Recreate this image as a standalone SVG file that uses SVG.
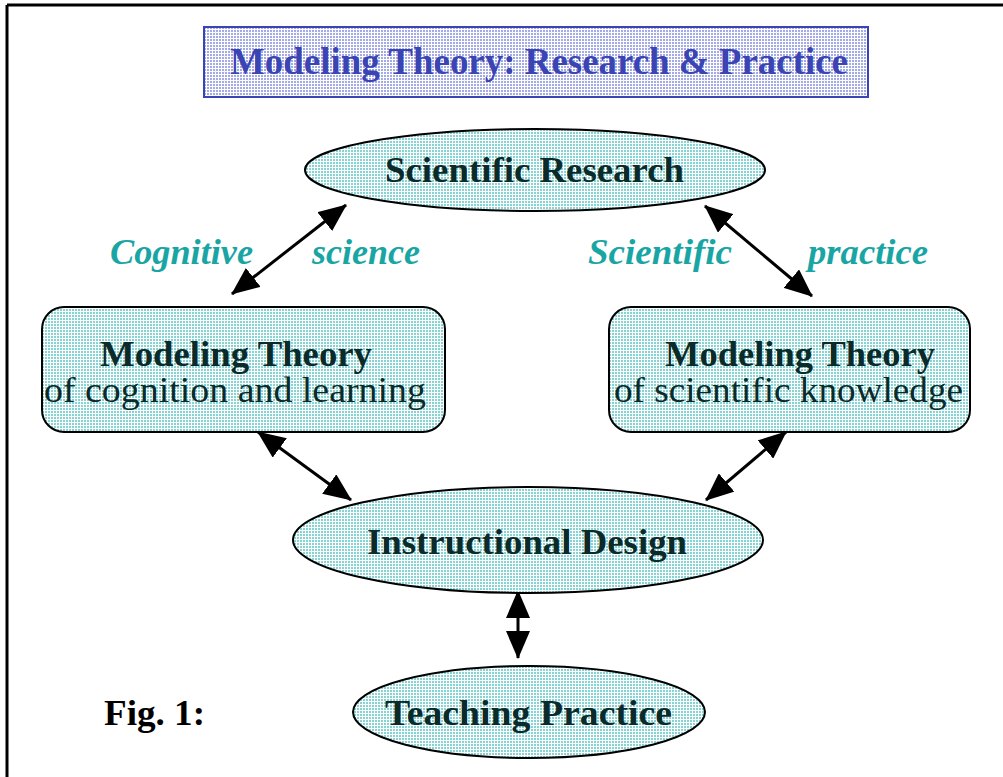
<svg xmlns="http://www.w3.org/2000/svg" width="1003" height="777" viewBox="0 0 1003 777">
<defs>
<pattern id="cyan" width="3" height="3" patternUnits="userSpaceOnUse">
<rect width="3" height="3" fill="#86d3d3"/>
<rect x="2" y="0" width="1" height="3" fill="#ffffff"/>
<rect x="0" y="2" width="3" height="1" fill="#ffffff"/>
</pattern>
<pattern id="blue" width="3" height="3" patternUnits="userSpaceOnUse">
<rect width="3" height="3" fill="#a3a8e6"/>
<rect x="2" y="0" width="1" height="3" fill="#ffffff"/>
<rect x="0" y="2" width="3" height="1" fill="#ffffff"/>
</pattern>
<marker id="ah" markerUnits="userSpaceOnUse" markerWidth="28" markerHeight="24" refX="27" refY="12" orient="auto-start-reverse">
<path d="M0,0 L28,12 L0,24 z" fill="#000"/>
</marker>
<style>
.node{fill:url(#cyan);stroke:#000;stroke-width:2}
.b{font-family:"Liberation Serif","Times New Roman",serif;font-weight:bold;fill:#0b2a2a}
.r{font-family:"Liberation Serif","Times New Roman",serif;fill:#0b2a2a}
.lab{font-family:"Liberation Serif","Times New Roman",serif;font-weight:bold;font-style:italic;fill:#1aa5a5;font-size:36px}
.conn line{stroke:#000;stroke-width:3;marker-start:url(#ah);marker-end:url(#ah)}
</style>
</defs>
<rect width="1003" height="777" fill="#fff"/>
<line x1="7" y1="5" x2="1003" y2="5" stroke="#000" stroke-width="3"/>
<line x1="7" y1="5" x2="7" y2="777" stroke="#000" stroke-width="3"/>

<g id="title">
<rect x="204" y="27" width="664" height="70" fill="url(#blue)" stroke="#3a44b2" stroke-width="2"/>
<text x="230" y="74" font-family="Liberation Serif, Times New Roman, serif" font-weight="bold" font-size="37" fill="#3a44b2" textLength="618" lengthAdjust="spacingAndGlyphs">Modeling Theory: Research &amp; Practice</text>
</g>

<g class="conn" id="connectors">
<line x1="232" y1="294" x2="346" y2="205"/>
<line x1="705" y1="206" x2="812" y2="296"/>
<line x1="258" y1="432" x2="351" y2="500"/>
<line x1="786" y1="432" x2="706" y2="500"/>
<line x1="518" y1="591" x2="518" y2="658"/>
</g>

<g id="research">
<ellipse class="node" cx="535" cy="170" rx="230" ry="41"/>
<text class="b" x="385" y="182" font-size="36" textLength="299" lengthAdjust="spacingAndGlyphs">Scientific Research</text>
</g>

<g id="cognition">
<rect class="node" x="42" y="307" width="403" height="125" rx="22"/>
<text class="b" x="100" y="366" font-size="35" textLength="272" lengthAdjust="spacingAndGlyphs">Modeling Theory</text>
<text class="r" x="44" y="402" font-size="35" textLength="382" lengthAdjust="spacingAndGlyphs">of cognition and learning</text>
</g>

<g id="knowledge">
<rect class="node" x="609" y="307" width="361" height="125" rx="22"/>
<text class="b" x="665" y="366" font-size="35" textLength="270" lengthAdjust="spacingAndGlyphs">Modeling Theory</text>
<text class="r" x="614" y="402" font-size="35" textLength="349" lengthAdjust="spacingAndGlyphs">of scientific knowledge</text>
</g>

<g id="design">
<ellipse class="node" cx="528" cy="540" rx="235" ry="53"/>
<text class="b" x="367" y="554" font-size="36" textLength="320" lengthAdjust="spacingAndGlyphs">Instructional Design</text>
</g>

<g id="teaching">
<ellipse class="node" cx="529" cy="712" rx="176" ry="46"/>
<text class="b" x="385" y="725" font-size="36" textLength="287" lengthAdjust="spacingAndGlyphs">Teaching Practice</text>
</g>

<g id="labels">
<text class="lab" x="110" y="264" textLength="143" lengthAdjust="spacingAndGlyphs">Cognitive</text>
<text class="lab" x="312" y="264" textLength="108" lengthAdjust="spacingAndGlyphs">science</text>
<text class="lab" x="588" y="264" textLength="144" lengthAdjust="spacingAndGlyphs">Scientific</text>
<text class="lab" x="808" y="264" textLength="120" lengthAdjust="spacingAndGlyphs">practice</text>
<text x="104" y="725" font-family="Liberation Serif, Times New Roman, serif" font-weight="bold" font-size="36" fill="#000" textLength="101" lengthAdjust="spacingAndGlyphs">Fig. 1:</text>
</g>
</svg>
